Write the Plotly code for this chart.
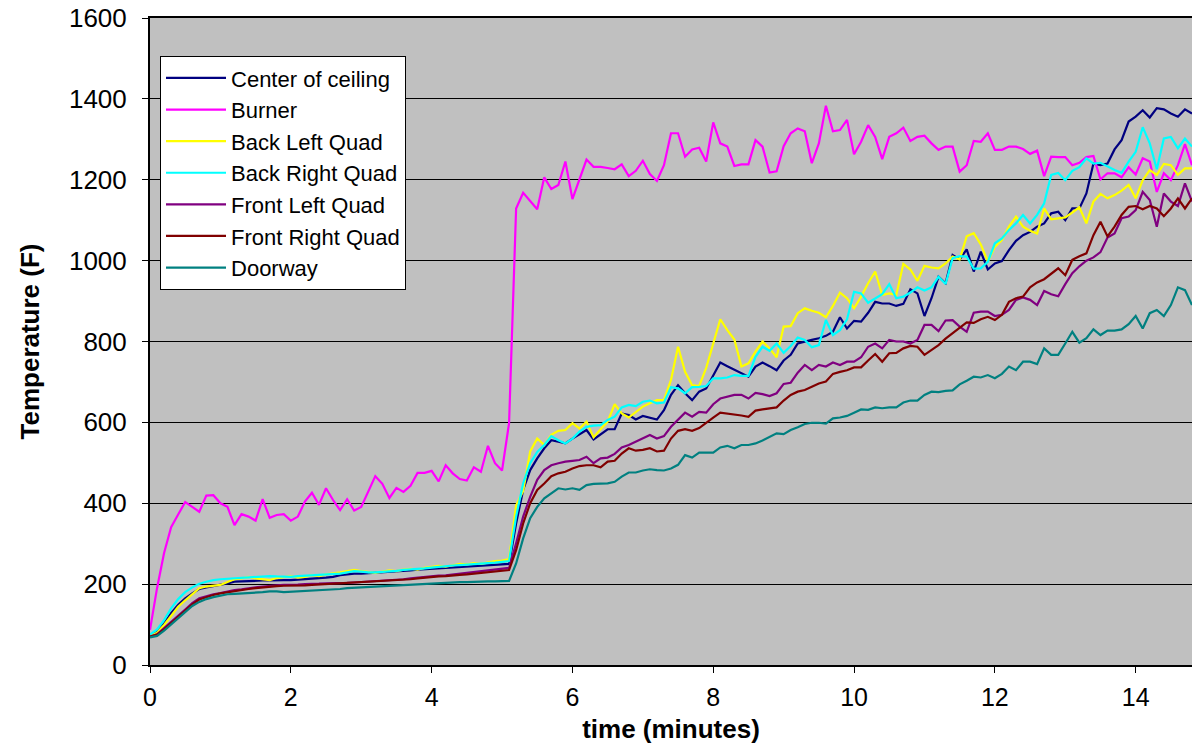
import plotly.graph_objects as go

# sample times (minutes), one reading every 0.1 min
time_min = [round(i * 0.1, 1) for i in range(149)]

center_of_ceiling = [
    72, 82, 103, 128, 149, 165, 177, 188, 192, 195,
    198, 202, 206, 207, 208, 208, 209, 209, 210, 210,
    210, 211, 212, 213, 214, 216, 218, 222, 224, 226,
    226, 227, 228, 229, 230, 231, 232, 234, 236, 237,
    238, 239, 240, 241, 242, 243, 244, 245, 246, 248,
    249, 250, 350, 433, 482, 511, 536, 556, 552, 548,
    560, 571, 581, 558, 571, 583, 583, 622, 618, 607,
    616, 612, 607, 630, 668, 692, 672, 655, 676, 684,
    717, 748, 739, 731, 723, 713, 738, 748, 739, 729,
    753, 767, 795, 800, 804, 808, 814, 824, 860, 832,
    851, 849, 871, 898, 894, 894, 888, 893, 929, 919,
    863, 907, 960, 944, 1014, 1003, 1028, 973, 1022, 978,
    993, 999, 1026, 1049, 1063, 1071, 1084, 1092, 1117, 1121,
    1100, 1129, 1129, 1166, 1240, 1236, 1240, 1275, 1298, 1344,
    1356, 1372, 1354, 1377, 1374, 1364, 1356, 1374, 1364,
]

burner = [
    87, 190, 277, 341, 372, 403, 391, 379, 419, 420,
    400, 391, 346, 373, 367, 357, 410, 364, 371, 373,
    357, 367, 404, 426, 396, 437, 408, 383, 410, 382,
    391, 429, 467, 448, 413, 438, 428, 443, 475, 475,
    480, 454, 494, 474, 460, 456, 489, 478, 542, 499,
    481, 598, 1129, 1168, 1148, 1127, 1206, 1177, 1187, 1245,
    1152, 1201, 1250, 1232, 1232, 1229, 1226, 1238, 1209, 1222,
    1247, 1214, 1197, 1236, 1315, 1315, 1257, 1275, 1279, 1245,
    1342, 1290, 1282, 1234, 1238, 1238, 1298, 1282, 1218, 1221,
    1283, 1315, 1327, 1320, 1241, 1290, 1383, 1320, 1323, 1348,
    1263, 1294, 1335, 1306, 1251, 1306, 1315, 1329, 1296, 1306,
    1309, 1290, 1274, 1282, 1282, 1220, 1236, 1296, 1294, 1315,
    1274, 1274, 1282, 1282, 1276, 1264, 1272, 1209, 1257, 1256,
    1256, 1236, 1242, 1256, 1259, 1201, 1216, 1216, 1206, 1231,
    1213, 1253, 1245, 1170, 1216, 1199, 1236, 1288, 1236,
]

back_left_quad = [
    72, 80, 99, 122, 144, 160, 175, 190, 194, 196,
    198, 205, 212, 214, 218, 214, 212, 210, 215, 218,
    220, 216, 218, 222, 220, 224, 226, 229, 232, 235,
    232, 230, 228, 231, 234, 232, 236, 238, 236, 240,
    243, 245, 243, 247, 250, 249, 252, 250, 254, 257,
    258, 262, 395, 430, 528, 560, 544, 569, 579, 581,
    598, 585, 602, 563, 583, 602, 645, 622, 612, 626,
    639, 647, 655, 655, 705, 787, 725, 692, 690, 735,
    795, 855, 828, 805, 738, 746, 775, 800, 783, 761,
    837, 838, 870, 882, 876, 871, 860, 888, 921, 907,
    882, 911, 944, 973, 915, 919, 915, 992, 978, 950,
    987, 983, 981, 993, 1010, 1003, 1060, 1068, 1040, 998,
    1034, 1051, 1084, 1109, 1084, 1074, 1067, 1129, 1102, 1105,
    1107, 1119, 1132, 1092, 1146, 1165, 1154, 1162, 1173, 1187,
    1154, 1199, 1224, 1212, 1239, 1236, 1212, 1228, 1228,
]

back_right_quad = [
    75, 88, 111, 140, 163, 180, 192, 201, 206, 210,
    212, 213, 214, 215, 217, 218, 219, 220, 219, 218,
    218, 220, 221, 222, 223, 224, 225, 226, 229, 232,
    231, 229, 229, 230, 231, 233, 235, 236, 238, 239,
    241, 243, 245, 246, 247, 248, 249, 250, 251, 253,
    255, 257, 367, 449, 499, 527, 544, 566, 556, 548,
    560, 577, 589, 592, 593, 606, 614, 637, 643, 640,
    651, 654, 647, 649, 687, 684, 672, 687, 688, 690,
    709, 709, 711, 717, 715, 715, 762, 787, 777, 795,
    772, 789, 810, 804, 786, 791, 853, 816, 828, 855,
    923, 919, 896, 907, 917, 942, 907, 911, 921, 934,
    926, 934, 960, 942, 1006, 1011, 1010, 980, 981, 997,
    1043, 1055, 1076, 1092, 1113, 1092, 1113, 1142, 1212, 1217,
    1199, 1222, 1231, 1253, 1240, 1242, 1232, 1224, 1217, 1245,
    1269, 1330, 1290, 1226, 1302, 1306, 1278, 1302, 1282,
]

front_left_quad = [
    70, 76, 91, 106, 120, 137, 153, 165, 170, 175,
    178, 182, 185, 187, 190, 192, 194, 196, 197, 198,
    198, 199, 200, 200, 201, 202, 202, 203, 203, 204,
    205, 206, 207, 208, 210, 211, 212, 214, 216, 218,
    220, 221, 222, 224, 226, 227, 229, 231, 233, 236,
    238, 240, 301, 367, 416, 458, 482, 494, 499, 503,
    505, 507, 515, 499, 511, 513, 522, 538, 544, 552,
    560, 569, 560, 566, 589, 607, 624, 614, 626, 624,
    645, 659, 664, 668, 668, 659, 673, 670, 665, 672,
    695, 698, 723, 742, 729, 742, 738, 748, 742, 750,
    750, 761, 787, 795, 783, 804, 800, 800, 795, 804,
    841, 841, 826, 852, 853, 837, 824, 871, 874, 874,
    863, 866, 878, 903, 909, 903, 890, 925, 917, 912,
    942, 969, 986, 1000, 1008, 1021, 1057, 1067, 1105, 1109,
    1125, 1170, 1150, 1084, 1166, 1146, 1135, 1191, 1146,
]

front_right_quad = [
    70, 75, 88, 104, 118, 134, 150, 162, 168, 173,
    177, 180, 183, 186, 188, 190, 192, 194, 195, 196,
    196, 197, 197, 198, 199, 200, 200, 201, 202, 203,
    204, 205, 206, 207, 208, 209, 211, 212, 214, 216,
    218, 219, 220, 222, 223, 224, 226, 227, 229, 231,
    233, 235, 284, 350, 400, 433, 449, 467, 474, 478,
    486, 492, 494, 494, 489, 503, 505, 523, 536, 530,
    532, 536, 528, 530, 560, 579, 583, 579, 586, 600,
    612, 624, 622, 620, 617, 614, 629, 632, 635, 637,
    654, 668, 676, 680, 688, 696, 701, 720, 725, 729,
    736, 736, 753, 769, 750, 771, 772, 783, 789, 787,
    767, 779, 791, 807, 820, 832, 847, 846, 855, 861,
    853, 866, 898, 907, 911, 934, 946, 954, 967, 981,
    964, 1002, 1011, 1018, 1063, 1096, 1060, 1084, 1113, 1133,
    1135, 1127, 1135, 1129, 1110, 1129, 1154, 1129, 1154,
]

doorway = [
    68, 72, 85, 100, 116, 132, 146, 156, 163, 168,
    172, 175, 176, 177, 177, 178, 180, 182, 182, 180,
    181, 182, 183, 184, 184, 185, 186, 188, 190, 191,
    191, 192, 193, 194, 195, 196, 197, 198, 199, 200,
    202, 203, 204, 204, 205, 205, 206, 206, 207, 207,
    208, 208, 251, 313, 363, 391, 412, 424, 437, 434,
    437, 433, 445, 448, 448, 449, 453, 466, 476, 476,
    481, 484, 482, 481, 486, 495, 519, 513, 525, 525,
    525, 538, 542, 536, 544, 544, 548, 555, 565, 573,
    571, 581, 588, 596, 599, 599, 597, 610, 612, 616,
    624, 632, 631, 637, 635, 637, 637, 649, 654, 654,
    668, 676, 675, 678, 679, 694, 703, 713, 711, 717,
    709, 720, 738, 729, 750, 750, 744, 783, 767, 767,
    795, 824, 797, 808, 830, 816, 827, 827, 830, 843,
    863, 832, 870, 878, 863, 890, 934, 927, 890,
]

series_names = ["Center of ceiling", "Burner", "Back Left Quad", "Back Right Quad",
                "Front Left Quad", "Front Right Quad", "Doorway"]
series_values = [center_of_ceiling, burner, back_left_quad, back_right_quad,
                 front_left_quad, front_right_quad, doorway]
series_colors = ["#000080", "#FF00FF", "#FFFF00", "#00FFFF", "#800080", "#800000", "#008080"]

x_ticks = [0, 2, 4, 6, 8, 10, 12, 14]
y_ticks = [0, 200, 400, 600, 800, 1000, 1200, 1400, 1600]

FONT = "Liberation Sans, Arial, sans-serif"

fig = go.Figure()
for name, vals, col in zip(series_names, series_values, series_colors):
    fig.add_trace(go.Scatter(x=time_min, y=vals, mode="lines", name=name,
                             line=dict(color=col, width=2.2)))

fig.update_layout(
    width=1194, height=749,
    margin=dict(l=150, r=2, t=18, b=84, autoexpand=False),
    paper_bgcolor="white",
    plot_bgcolor="#C0C0C0",
    font=dict(family=FONT, size=22, color="black"),
    showlegend=True,
    legend=dict(
        x=0.0096, y=0.941, xanchor="left", yanchor="top",
        bgcolor="white", bordercolor="black", borderwidth=1,
        font=dict(family=FONT, size=22, color="black"),
        tracegroupgap=0, itemwidth=60,
    ),
)

fig.update_xaxes(
    range=[0, 14.8], tickvals=x_ticks, ticktext=[str(v) for v in x_ticks],
    automargin=False,
    showgrid=False, zeroline=False,
    showline=True, linecolor="black", linewidth=2, mirror=True,
    ticks="outside", ticklen=6, tickcolor="black", tickwidth=1,
    tickfont=dict(family=FONT, size=25, color="black"),
    ticklabelstandoff=3,
    title=dict(text="<b>time (minutes)</b>", font=dict(family=FONT, size=26, color="black"),
               standoff=10),
)
fig.update_yaxes(
    range=[0, 1600], tickvals=y_ticks, ticktext=[str(v) for v in y_ticks],
    automargin=False, ticklabeloverflow="allow",
    showgrid=True, gridcolor="black", gridwidth=1, zeroline=False,
    showline=True, linecolor="black", linewidth=2,
    ticks="outside", ticklen=6, tickcolor="black", tickwidth=1,
    tickfont=dict(family=FONT, size=26, color="black"),
    ticklabelstandoff=10,
    title=dict(text="<b>Temperature (F)</b>", font=dict(family=FONT, size=26, color="black"),
               standoff=22),
)

# remove the browser's default 8px page margin so the figure fills the window
fig.write_html("out.html", config={"displayModeBar": False},
               post_script="document.body.style.margin='0';")
